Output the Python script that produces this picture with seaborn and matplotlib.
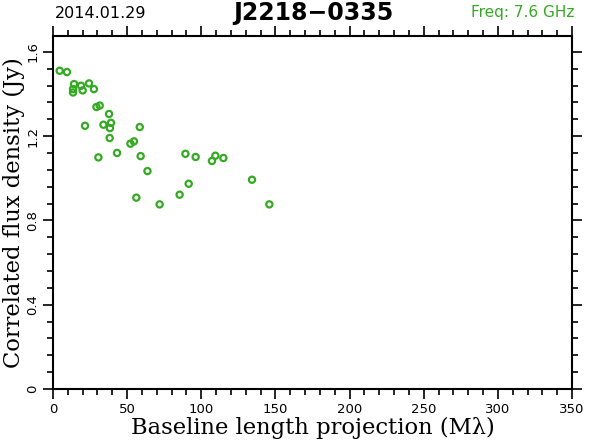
import matplotlib
matplotlib.use("Agg")
import matplotlib.pyplot as plt
import seaborn as sns
import pandas as pd
from matplotlib.ticker import MultipleLocator

# Data
baseline = [4.5, 9.4, 14.2, 13.5, 13.5, 18.9, 20.0, 24.3, 27.6, 29.3, 31.5,
            37.8, 39.1, 34.0, 21.6, 38.4, 58.5, 38.2, 54.6, 52.2, 43.2, 30.6,
            59.1, 63.7, 56.2, 71.9, 85.4, 89.3, 96.2, 109.5, 107.2, 114.9,
            91.5, 134.2, 145.9]
flux = [1.510, 1.504, 1.447, 1.423, 1.407, 1.439, 1.417, 1.450, 1.423, 1.338,
        1.345, 1.305, 1.263, 1.254, 1.249, 1.238, 1.243, 1.191, 1.175, 1.164,
        1.120, 1.099, 1.105, 1.034, 0.908, 0.876, 0.922, 1.116, 1.101, 1.107,
        1.082, 1.096, 0.974, 0.993, 0.876]
x_ticks = [0, 50, 100, 150, 200, 250, 300, 350]
y_ticks = [0, 0.4, 0.8, 1.2, 1.6]
y_tick_labels = ["0", "0.4", "0.8", "1.2", "1.6"]

df = pd.DataFrame({"baseline": baseline, "flux": flux})

sns.set_style("white")
plt.rcParams.update({"text.color": "black", "axes.labelcolor": "black",
                     "xtick.color": "black", "ytick.color": "black"})
green = "#33aa22"

fig = plt.figure(figsize=(5.9, 4.43), dpi=100)
ax = fig.add_axes([53/590, 1-389/443, (572-53)/590, (389-36)/443])

sns.scatterplot(data=df, x="baseline", y="flux", ax=ax, marker="o", s=20,
                facecolor="none", edgecolor=green, linewidth=1.6, legend=False)

ax.set_xlim(0, 350)
ax.set_ylim(0, 1.675)
ax.set_xticks(x_ticks)
ax.set_xticklabels([str(t) for t in x_ticks], fontsize=9.5)
ax.set_yticks(y_ticks)
ax.set_yticklabels(y_tick_labels, fontsize=9.5, rotation=90, va="center")
ax.xaxis.set_minor_locator(MultipleLocator(10))
ax.yaxis.set_minor_locator(MultipleLocator(0.08))
ax.tick_params(which="both", direction="out", top=True, right=True,
               bottom=True, left=True,
               labeltop=False, labelright=False, color="black", width=1.2)
ax.tick_params(which="major", length=7, pad=3)
ax.tick_params(which="minor", length=4)
for s in ax.spines.values():
    s.set_color("black")
    s.set_linewidth(1.5)

ax.set_xlabel("Baseline length projection (M\u03bb)", fontsize=16.3,
              family="DejaVu Serif", labelpad=1)
ax.set_ylabel("Correlated flux density (Jy)", fontsize=16.3,
              family="DejaVu Serif", labelpad=1)

fig.text(55/590, 1-13/443, "2014.01.29", fontsize=11.5, ha="left", va="center")
fig.text(313/590, 1-13/443, "J2218\u22120335", fontsize=17, fontweight="bold",
         ha="center", va="center")
fig.text(574/590, 1-13/443, "Freq: 7.6 GHz", fontsize=11, ha="right",
         va="center", color=green)

fig.savefig("out.png", dpi=100)
